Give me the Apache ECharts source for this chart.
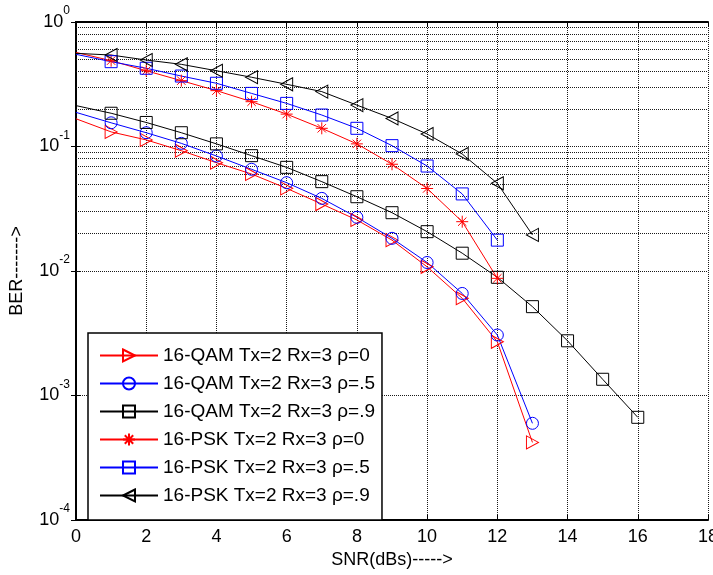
<!DOCTYPE html>
<html><head><meta charset="utf-8">
<script src="https://cdn.jsdelivr.net/npm/echarts@6/dist/echarts.min.js"></script>
<style>html,body{margin:0;padding:0;background:#fff}#c{width:713px;height:575px}</style>
</head><body><div id="c"></div>
<script>
// ---- data ----
const snr = [0,1,2,3,4,5,6,7,8,9,10,11,12,13,14,15,16];
const names = [
  '16-QAM Tx=2 Rx=3 \u03c1=0',
  '16-QAM Tx=2 Rx=3 \u03c1=.5',
  '16-QAM Tx=2 Rx=3 \u03c1=.9',
  '16-PSK Tx=2 Rx=3 \u03c1=0',
  '16-PSK Tx=2 Rx=3 \u03c1=.5',
  '16-PSK Tx=2 Rx=3 \u03c1=.9'
];
const qam0 = [0.167, 0.131, 0.113, 0.0925, 0.0741, 0.0601, 0.0461, 0.0345, 0.0257, 0.0177, 0.0108, 0.00604, 0.0027, 0.00042];
const qam5 = [0.188, 0.155, 0.129, 0.106, 0.0839, 0.0656, 0.0512, 0.0383, 0.027, 0.0183, 0.0117, 0.0066, 0.00306, 0.000598];
const qam9 = [0.213, 0.185, 0.156, 0.129, 0.105, 0.0844, 0.068, 0.0522, 0.0395, 0.0294, 0.0207, 0.0139, 0.0089, 0.00517, 0.00275, 0.00135, 0.000668];
const psk0 = [0.57, 0.489, 0.406, 0.338, 0.281, 0.229, 0.182, 0.14, 0.105, 0.072, 0.046, 0.0249, 0.00873];
const psk5 = [0.55, 0.48, 0.425, 0.368, 0.322, 0.267, 0.222, 0.179, 0.14, 0.1016, 0.0697, 0.0416, 0.0177];
const psk9 = [0.56, 0.543, 0.495, 0.457, 0.406, 0.36, 0.316, 0.276, 0.215, 0.168, 0.126, 0.087, 0.0506, 0.0195];
const xTicks = [0, 18, 2];
const yDecades = [-4, -3, -2, -1, 0];

// ---- build ----
const FONT = "'Liberation Sans', Arial, sans-serif";
const GRIDC = '#1a1a1a';
const triR = 'path://M0,0L12,6.5L0,13Z';
const triL = 'path://M12,0L0,6.5L12,13Z';
const star = 'path://M6,0L6,12M0,6L12,6M1.8,1.8L10.2,10.2M1.8,10.2L10.2,1.8';

function pts(vals) {
  return vals.map((v, i) => i === 0 ? {value: [snr[i], v], symbol: 'none'} : [snr[i], v]);
}
function mk(name, vals, color, symbol, size) {
  return {
    type: 'line', name: name, data: pts(vals), z: 5,
    symbol: symbol, symbolSize: size,
    lineStyle: {color: color, width: 1},
    itemStyle: {color: 'rgba(0,0,0,0)', borderColor: color, borderWidth: 1},
    emphasis: {disabled: true}
  };
}
const minor = [];
yDecades.slice(0, -1).forEach(d => { for (let k = 2; k <= 9; k++) minor.push(k * Math.pow(10, d)); });

const series = [
  {type: 'line', name: '_g', data: [], z: 1, silent: true,
   markLine: {silent: true, symbol: 'none', label: {show: false}, animation: false,
     lineStyle: {type: [1, 1], color: GRIDC, width: 1},
     emphasis: {disabled: true},
     data: minor.map(v => ({yAxis: v}))}},
  mk(names[0], qam0, '#ff0000', triR, [12, 13]),
  mk(names[1], qam5, '#0000ff', 'circle', 12),
  mk(names[2], qam9, '#000000', 'rect', 12),
  mk(names[3], psk0, '#ff0000', star, 12),
  mk(names[4], psk5, '#0000ff', 'rect', 12),
  mk(names[5], psk9, '#000000', triL, [12, 13])
];

const chart = echarts.init(document.getElementById('c'), null, {renderer: 'canvas'});
chart.setOption({
  animation: false,
  backgroundColor: '#fff',
  grid: {left: 76, top: 22, right: 5, bottom: 55, containLabel: false, outerBoundsMode: 'none'},
  xAxis: [{
    type: 'value', min: xTicks[0], max: xTicks[1], interval: xTicks[2],
    name: 'SNR(dBs)----->', nameLocation: 'middle', nameGap: 31,
    nameTextStyle: {fontSize: 18, fontFamily: FONT, color: '#000'},
    axisLine: {show: true, lineStyle: {color: '#000', width: 2}},
    axisTick: {show: true, inside: true, length: 5, lineStyle: {color: '#000'}},
    axisLabel: {fontSize: 18, fontFamily: FONT, color: '#000', margin: 8, showMaxLabel: true, hideOverlap: false},
    splitLine: {show: true, lineStyle: {type: [1, 1], color: GRIDC, width: 1}}
  }, {
    type: 'value', position: 'top', min: xTicks[0], max: xTicks[1], interval: xTicks[2],
    axisLine: {show: true, lineStyle: {color: '#000', width: 2}},
    axisTick: {show: true, inside: true, length: 5, lineStyle: {color: '#000'}},
    axisLabel: {show: false}, splitLine: {show: false}
  }],
  yAxis: [{
    type: 'log', logBase: 10, min: Math.pow(10, yDecades[0]), max: Math.pow(10, yDecades[yDecades.length - 1]),
    name: 'BER------->', nameLocation: 'middle', nameGap: 50, nameRotate: 90,
    nameTextStyle: {fontSize: 18, fontFamily: FONT, color: '#000'},
    axisLine: {show: true, lineStyle: {color: '#000', width: 2}},
    axisTick: {show: true, inside: true, length: 5, lineStyle: {color: '#000'}},
    axisLabel: {
      margin: 6, fontFamily: FONT, color: '#000', showMinLabel: true, showMaxLabel: true,
      formatter: v => '{b|10}{s|' + Math.round(Math.log10(v)) + '}',
      rich: {
        b: {fontSize: 18, fontFamily: FONT, color: '#000', lineHeight: 34, verticalAlign: 'middle'},
        s: {fontSize: 12, fontFamily: FONT, color: '#000', lineHeight: 12, verticalAlign: 'top'}
      }
    },
    splitLine: {show: true, lineStyle: {type: [1, 1], color: GRIDC, width: 1}}
  }, {
    type: 'log', logBase: 10, position: 'right', min: Math.pow(10, yDecades[0]), max: Math.pow(10, yDecades[yDecades.length - 1]),
    axisLine: {show: true, lineStyle: {color: '#000', width: 2}},
    axisTick: {show: true, inside: true, length: 5, lineStyle: {color: '#000'}},
    axisLabel: {show: false}, splitLine: {show: false}
  }],
  legend: {
    orient: 'vertical', left: 88, top: 333, padding: [13, 7, 15, 11],
    itemGap: 9, itemWidth: 58, itemHeight: 15, selectedMode: false,
    backgroundColor: '#fff', borderColor: '#000', borderWidth: 1.5,
    textStyle: {fontSize: 19, fontFamily: FONT, color: '#000'},
    data: names, z: 10
  },
  series: series
});
</script>
</body></html>
